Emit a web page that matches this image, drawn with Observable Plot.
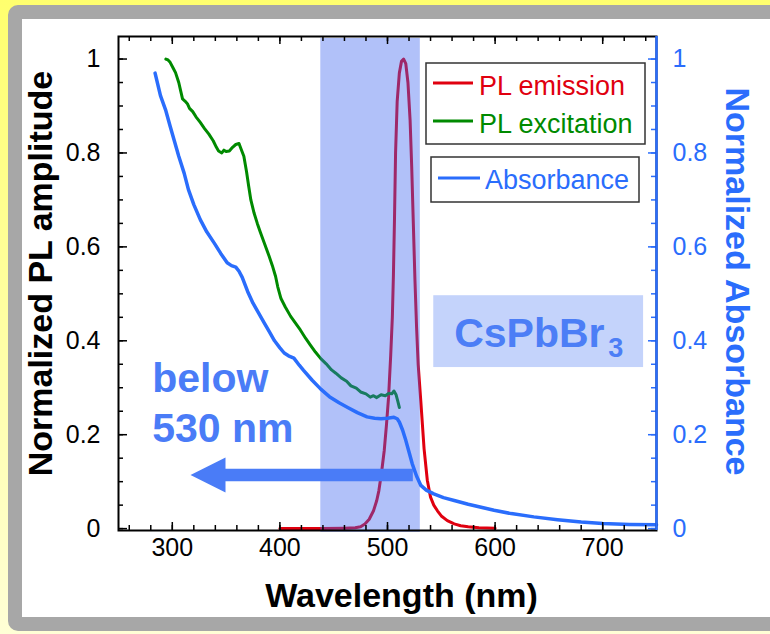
<!DOCTYPE html>
<html><head><meta charset="utf-8">
<script src="https://cdn.jsdelivr.net/npm/d3@7"></script>
<script src="https://cdn.jsdelivr.net/npm/@observablehq/plot@0.6"></script>
<style>
body{margin:0;}
#wrap{position:relative;width:770px;height:634px;overflow:hidden;background:linear-gradient(#ffff6e,#ffffd6);font-family:"Liberation Sans",Arial,sans-serif;}
#frame{position:absolute;left:8px;top:5px;width:776px;height:626px;box-sizing:border-box;border:14px solid #a7a7a7;border-radius:10px;background:#fff;}
#chart{position:absolute;left:0;top:0;}
#legend{position:absolute;left:0;top:0;pointer-events:none;}
</style></head><body>
<div id="wrap"><div id="frame"></div><div id="chart"></div><svg id="legend" width="770" height="634"></svg></div>
<script>
// Absorbance (normalized)
const absWl  = [284,289,294,298,302,306,311,315,320,326,332,339,345,351,355,359,362,365,370,375,380,385,390,395,400,404,408,413,418,422,430,438,446,455,463,472,481,488,494,500,506,509,511,514,517,520,523,527,531,536,543,552,562,575,588,599,615,636,658,680,700,725,750];
const absVal = [0.970,0.922,0.890,0.857,0.825,0.793,0.757,0.722,0.690,0.658,0.632,0.608,0.586,0.566,0.560,0.557,0.548,0.535,0.505,0.480,0.460,0.440,0.420,0.400,0.385,0.374,0.368,0.363,0.348,0.337,0.316,0.297,0.281,0.268,0.258,0.247,0.238,0.235,0.234,0.235,0.237,0.234,0.227,0.210,0.188,0.163,0.138,0.112,0.092,0.082,0.074,0.066,0.060,0.052,0.045,0.039,0.032,0.025,0.019,0.014,0.011,0.009,0.008];
// PL excitation
const pleWl  = [294,296,298,301,303,306,308,309.5,312,314,316,319,322,326,330,334,338,341,343,346,348,350,353,356,359,362,364,366.5,369,371,373,376,379,382,386,390,393,396,398,401,405,410,415,419,424,428,433,438,443,448,452,457,462,466,471,475,480,484,487,490,494,498,501,504,506,508,509.5,511];
const pleVal = [1.000,0.998,0.993,0.980,0.971,0.950,0.930,0.915,0.910,0.905,0.895,0.888,0.877,0.865,0.852,0.840,0.826,0.812,0.804,0.800,0.806,0.803,0.804,0.812,0.818,0.820,0.808,0.793,0.760,0.729,0.700,0.672,0.650,0.630,0.605,0.580,0.560,0.537,0.515,0.490,0.472,0.452,0.436,0.423,0.405,0.392,0.376,0.362,0.351,0.338,0.331,0.321,0.314,0.304,0.299,0.291,0.287,0.280,0.283,0.279,0.285,0.283,0.288,0.287,0.293,0.285,0.272,0.258];
// PL emission
const plWl  = [400,420,440,460,470,475,479,483,487,490,492,494.5,497,499,501,503,504.5,505.5,506.5,507.5,509,511,513,515,517,519,521,522.5,524,525.5,527,528.5,531,534,537,540,543,546.4,550,555.6,562,568,575,585,600];
const plVal = [0.000,0.000,0.000,0.001,0.002,0.004,0.010,0.020,0.038,0.060,0.081,0.120,0.167,0.220,0.280,0.370,0.450,0.540,0.660,0.800,0.910,0.970,0.995,1.000,0.990,0.950,0.870,0.770,0.650,0.530,0.430,0.350,0.270,0.170,0.103,0.067,0.050,0.038,0.027,0.017,0.010,0.006,0.004,0.002,0.001];

const xTickLabels = [300,400,500,600,700];
const yTickLabels = [0,0.2,0.4,0.6,0.8,1];
const seriesNames = ["PL emission","PL excitation","Absorbance"];

const absData = absWl.map((w,i)=>({wl:w, v:absVal[i]}));
const pleData = pleWl.map((w,i)=>({wl:w, v:pleVal[i]}));
const plData  = plWl.map((w,i)=>({wl:w, v:plVal[i]}));

const W=770,H=634,mL=118,mR=114,mT=36,mB=104;
const fw=W-mL-mR, fh=H-mT-mB;
const font='"Liberation Sans", Arial, sans-serif';
const blue="#2a6dfc", red="#e0000f", green="#008a00", annBlue="#4a7cf7";
const xMinor=d3.range(260,750,20);
const yMinor=d3.range(0,21).map(i=>i/20);

const triLeft={draw(ctx,size){const r=Math.sqrt(size/Math.PI);ctx.moveTo(-r,0);ctx.lineTo(r,-r);ctx.lineTo(r,r);ctx.closePath();}};

const chart = Plot.plot({
  width:W, height:H, marginLeft:mL, marginRight:mR, marginTop:mT, marginBottom:mB,
  style:{background:"transparent", fontFamily:font},
  x:{domain:[250,750]},
  y:{domain:[-0.004,1.048]},
  marks:[
    Plot.line(plData,{x:"wl",y:"v",stroke:red,strokeWidth:3}),
    Plot.line(pleData,{x:"wl",y:"v",stroke:green,strokeWidth:3}),
    Plot.rect([{lo:438,hi:530.5}],{x1:"lo",x2:"hi",fill:"#3c64f0",fillOpacity:0.4,insetBottom:-2,insetTop:2}),
    Plot.ruleY([{y:0.114,x1:335,x2:524}],{y:"y",x1:"x1",x2:"x2",stroke:annBlue,strokeWidth:12.5}),
    Plot.dot([{x:333.2,y:0.114}],{x:"x",y:"y",r:17.5,symbol:triLeft,fill:annBlue,stroke:"none"}),
    Plot.line(absData,{x:"wl",y:"v",stroke:blue,strokeWidth:3.5}),
    Plot.rect([{x1:543,x2:738,y1:0.343,y2:0.496}],{x1:"x1",x2:"x2",y1:"y1",y2:"y2",fill:"#c4d3fb"}),
    Plot.text([{x:562,y:0.386,t:"CsPbBr"}],{x:"x",y:"y",text:"t",textAnchor:"start",lineAnchor:"bottom",fontSize:41,fontWeight:"bold",fill:"#4c7ef6"}),
    Plot.text([{x:562,y:0.365,t:"3"}],{x:"x",y:"y",text:"t",dx:154,textAnchor:"start",lineAnchor:"bottom",fontSize:27,fontWeight:"bold",fill:"#4c7ef6"}),
    Plot.text([{x:281.3,y:0.184,t:"below\n530 nm"}],{x:"x",y:"y",text:"t",textAnchor:"start",lineAnchor:"bottom",lineHeight:1.22,fontSize:41,fontWeight:"bold",fill:annBlue}),
    // ticks (inward)
    Plot.tickX(xMinor,{x:d=>d,insetTop:fh-5,stroke:"black",strokeWidth:1.5}),
    Plot.tickX(xTickLabels,{x:d=>d,insetTop:fh-8,stroke:"black",strokeWidth:1.5}),
    Plot.tickX(xMinor,{x:d=>d,insetBottom:fh-5,stroke:"black",strokeWidth:1.5}),
    Plot.tickX(xTickLabels,{x:d=>d,insetBottom:fh-8,stroke:"black",strokeWidth:1.5}),
    Plot.tickY(yMinor,{y:d=>d,insetRight:fw-5,stroke:"black",strokeWidth:1.5}),
    Plot.tickY(yTickLabels,{y:d=>d,insetRight:fw-9,stroke:"black",strokeWidth:1.5}),
    Plot.tickY(yMinor,{y:d=>d,insetLeft:fw-5,stroke:blue,strokeWidth:1.5}),
    Plot.tickY(yTickLabels,{y:d=>d,insetLeft:fw-8,stroke:blue,strokeWidth:1.5}),
    Plot.frame({stroke:"black",strokeWidth:2}),
    Plot.ruleX([750],{stroke:blue,strokeWidth:2.5}),
    Plot.axisX(xTickLabels,{tickSize:0,tickPadding:8,fontSize:25,label:null,color:"black"}),
    Plot.axisY(yTickLabels,{anchor:"left",tickSize:0,tickPadding:18,fontSize:25,label:null,tickFormat:d=>String(d),color:"black"}),
    Plot.axisY(yTickLabels,{anchor:"right",tickSize:0,tickPadding:16,fontSize:25,label:null,tickFormat:d=>String(d),color:blue}),
    Plot.text(["Normalized PL amplitude"],{frameAnchor:"left",text:d=>d,textAnchor:"middle",lineAnchor:"middle",rotate:-90,dx:-77,dy:-10,fontSize:34,fontWeight:"bold",fill:"black"}),
    Plot.text(["Normalized Absorbance"],{frameAnchor:"right",text:d=>d,textAnchor:"middle",lineAnchor:"middle",rotate:90,dx:80,dy:-2,fontSize:34,fontWeight:"bold",fill:blue}),
    Plot.text(["Wavelength (nm)"],{frameAnchor:"bottom",text:d=>d,textAnchor:"middle",lineAnchor:"bottom",dx:14,dy:76,fontSize:34,fontWeight:"bold",fill:"black"})
  ]
});
document.getElementById("chart").appendChild(chart);

// legend
const lg=d3.select("#legend").style("font-family",font);
lg.append("rect").attr("x",426).attr("y",63).attr("width",219).attr("height",81).attr("fill","#fff").attr("stroke","#333").attr("stroke-width",1.5);
lg.append("rect").attr("x",431).attr("y",157).attr("width",208).attr("height",45).attr("fill","#fff").attr("stroke","#333").attr("stroke-width",1.5);
const items=[{n:seriesNames[0],c:red,x1:433,x2:473,ly:83,tx:479,ty:95},
             {n:seriesNames[1],c:green,x1:433,x2:473,ly:121,tx:479,ty:133},
             {n:seriesNames[2],c:blue,x1:438,x2:480,ly:178,tx:485,ty:189}];
items.forEach(it=>{
  lg.append("line").attr("x1",it.x1).attr("x2",it.x2).attr("y1",it.ly).attr("y2",it.ly).attr("stroke",it.c).attr("stroke-width",3);
  lg.append("text").attr("x",it.tx).attr("y",it.ty).attr("fill",it.c).attr("font-size",27).text(it.n);
});
</script>
</body></html>
